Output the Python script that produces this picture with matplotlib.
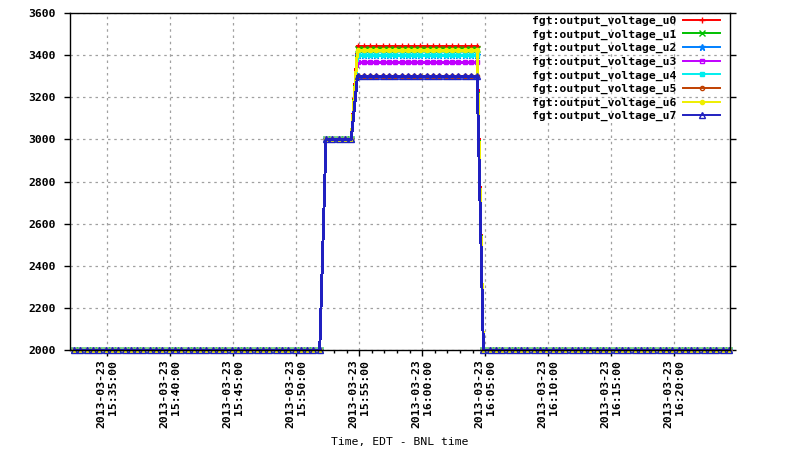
#!/usr/bin/env python3
"""FGT output voltages vs time (gnuplot-style)."""
import numpy as np
import pandas as pd
import matplotlib
matplotlib.use('Agg')
import matplotlib.pyplot as plt
import matplotlib.dates as mdates

plt.rcParams['font.family'] = ['DejaVu Sans Mono']
plt.rcParams['font.weight'] = 'bold'

# ---------------------------------------------------------------------------
# data: one sample every 30 s
# ---------------------------------------------------------------------------
t_start = '2013-03-23 15:32:22'
n_low1 = 40      # samples at 2000 before the ramp
n_mid = 5        # samples at 3000
n_top = 20       # samples at the plateau
n_low2 = 40      # samples at 2000 after the drop

names = ['fgt:output_voltage_u%d' % i for i in range(8)]
base_v = 2000
mid_v = 3000
top_v = [3443, 3428, 3400, 3367, 3400, 3300, 3423, 3300]

colors = ['#ff0000', '#00c000', '#0080ff', '#c000ff',
          '#00eeee', '#c04000', '#eeee00', '#2020c0']
markers = ['+', 'x', '*', 's', 's', 'o', 'o', '^']
filled = [True, True, True, False, True, False, True, False]
msizes = [5, 4, 5, 3.5, 3.5, 3, 3, 4]

n = n_low1 + n_mid + n_top + n_low2
times = pd.date_range(t_start, periods=n, freq='30s')

fig = plt.figure(figsize=(8, 4.5), dpi=100)
ax = fig.add_axes([70 / 800, 1 - 350 / 450, 660 / 800, 337 / 450])

for i in range(8):
    vals = ([base_v] * n_low1 + [mid_v] * n_mid
            + [top_v[i]] * n_top + [base_v] * n_low2)
    ax.plot(times, vals, color=colors[i], linewidth=1.4,
            marker=markers[i], markersize=msizes[i], markeredgewidth=1.0,
            markerfacecolor=colors[i] if filled[i] else 'none',
            label=names[i], clip_on=False, zorder=3 + i, antialiased=False)

ax.set_xlim(pd.Timestamp('2013-03-23 15:32:02'), pd.Timestamp('2013-03-23 16:24:27'))
ax.set_ylim(2000, 3600)
ax.set_yticks(np.arange(2000, 3601, 200))

ax.xaxis.set_major_locator(mdates.MinuteLocator(byminute=range(0, 60, 5)))
ax.xaxis.set_minor_locator(mdates.MinuteLocator())
ax.xaxis.set_major_formatter(mdates.DateFormatter('%Y-%m-%d\n%H:%M:%S'))
for lbl in ax.get_xticklabels():
    lbl.set_rotation(90)
    lbl.set_ha('center')
    lbl.set_va('top')
    lbl.set_multialignment('right')

ax.tick_params(axis='both', which='major', direction='out', length=4,
               width=1, labelsize=8.2, right=True, pad=3)
ax.tick_params(axis='x', which='minor', direction='out', length=2.5, width=1)
ax.tick_params(axis='y', which='major', pad=6)
for sp in ax.spines.values():
    sp.set_linewidth(1.0)
    sp.set_zorder(20)

ax.grid(True, which='major', color='#a0a0a0', linestyle=(0, (2, 3)), linewidth=0.9)

ax.set_xlabel('Time, EDT - BNL time', fontsize=8.2, labelpad=6)

leg = ax.legend(loc='upper right', bbox_to_anchor=(0.995, 1.012), frameon=False,
                markerfirst=False, fontsize=8.2, handlelength=3.2,
                labelspacing=0.3, borderaxespad=0.2, handletextpad=0.6)
leg.set_zorder(30)
for txt in leg.get_texts():
    txt.set_fontweight('bold')

plt.savefig('out.png', dpi=100)
